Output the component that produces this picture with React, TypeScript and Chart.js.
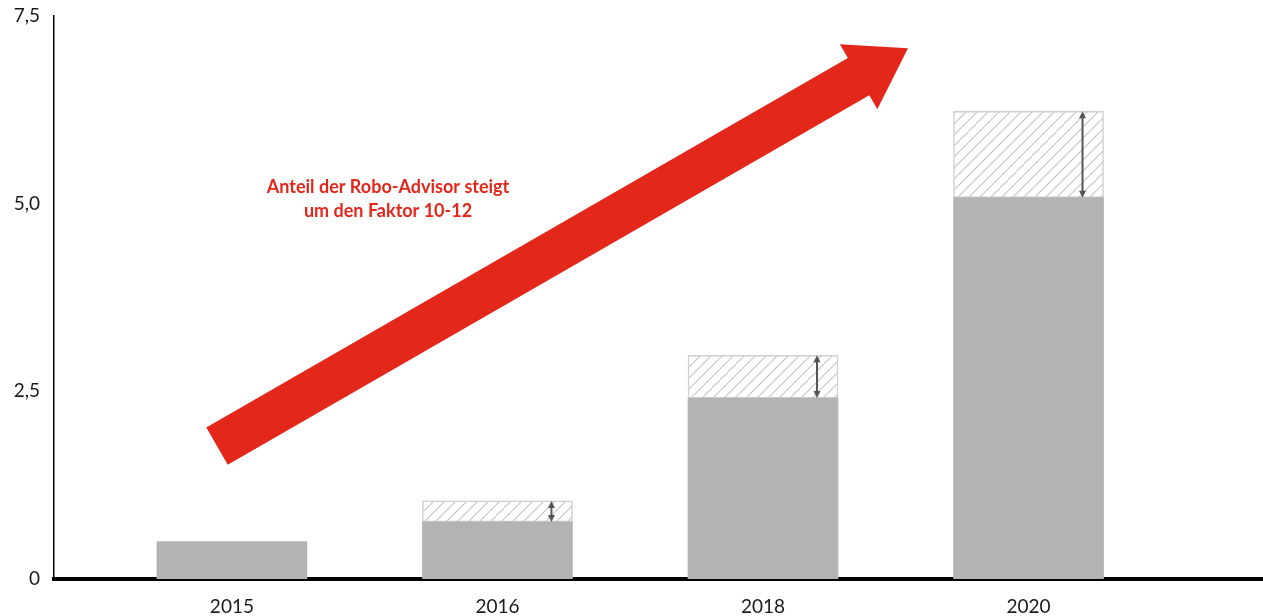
import React, { useEffect, useRef } from 'react';
import { Chart, registerables } from 'chart.js';

Chart.register(...registerables);

// ---- data ----
const years = ['2015', '2016', '2018', '2020'];
const positions = [0, 1, 2, 3];
const baseValues = [0.5, 0.76, 2.41, 5.08];
const rangeValues = [0, 0.28, 0.57, 1.15];
const yTicks = [0, 2.5, 5, 7.5];
const yTickLabels = ['0', '2,5', '5,0', '7,5'];
const noteLines = ['Anteil der Robo-Advisor steigt', 'um den Faktor 10-12'];
// trend arrow in data coordinates (x = category position, y = value)
const arrowTail = { x: -0.056, y: 1.77 };
const arrowTip = { x: 2.546, y: 7.07 };
const notePos = { x: 0.588, y: 5.22 };

const RED = '#e3271a';
const FONT = 'Lato, "Noto Sans", sans-serif';

function makeHatch(): CanvasPattern | string {
  const s = 11;
  const c = document.createElement('canvas');
  c.width = s;
  c.height = s;
  const g = c.getContext('2d');
  if (!g) return '#ffffff';
  g.fillStyle = '#ffffff';
  g.fillRect(0, 0, s, s);
  g.strokeStyle = '#c4c4c4';
  g.lineWidth = 1.1;
  g.beginPath();
  g.moveTo(0, s);
  g.lineTo(s, 0);
  g.moveTo(-s / 2, s / 2);
  g.lineTo(s / 2, -s / 2);
  g.moveTo(s / 2, s * 1.5);
  g.lineTo(s * 1.5, s / 2);
  g.stroke();
  const p = g.createPattern(c, 'repeat');
  return p || '#ffffff';
}

const overlayPlugin = {
  id: 'overlay',
  afterDatasetsDraw(chart: any) {
    const { ctx } = chart;
    const xs = chart.scales.x;
    const ys = chart.scales.y;
    ctx.save();

    // range double arrows
    ctx.strokeStyle = '#555555';
    ctx.fillStyle = '#555555';
    ctx.lineWidth = 2;
    positions.forEach((p, i) => {
      if (rangeValues[i] <= 0) return;
      const x = xs.getPixelForValue(p) + 54;
      const y1 = ys.getPixelForValue(baseValues[i]);
      const y2 = ys.getPixelForValue(baseValues[i] + rangeValues[i]);
      const ah = 7;
      const aw = 3.5;
      ctx.beginPath();
      ctx.moveTo(x, y2 + ah - 1);
      ctx.lineTo(x, y1 - ah + 1);
      ctx.stroke();
      ctx.beginPath();
      ctx.moveTo(x, y2);
      ctx.lineTo(x - aw, y2 + ah);
      ctx.lineTo(x + aw, y2 + ah);
      ctx.closePath();
      ctx.fill();
      ctx.beginPath();
      ctx.moveTo(x, y1);
      ctx.lineTo(x - aw, y1 - ah);
      ctx.lineTo(x + aw, y1 - ah);
      ctx.closePath();
      ctx.fill();
    });

    // big red trend arrow
    const tx = xs.getPixelForValue(arrowTail.x);
    const ty = ys.getPixelForValue(arrowTail.y);
    const hx = xs.getPixelForValue(arrowTip.x);
    const hy = ys.getPixelForValue(arrowTip.y);
    const len = Math.hypot(hx - tx, hy - ty);
    const ux = (hx - tx) / len;
    const uy = (hy - ty) / len;
    const nx = -uy;
    const ny = ux;
    const h = 21.5;
    const H = 37.6;
    const headLen = 57;
    const bx = hx - ux * headLen;
    const by = hy - uy * headLen;
    ctx.fillStyle = RED;
    ctx.beginPath();
    ctx.moveTo(tx - nx * h, ty - ny * h);
    ctx.lineTo(bx - nx * h, by - ny * h);
    ctx.lineTo(bx - nx * H, by - ny * H);
    ctx.lineTo(hx, hy);
    ctx.lineTo(bx + nx * H, by + ny * H);
    ctx.lineTo(bx + nx * h, by + ny * h);
    ctx.lineTo(tx + nx * h, ty + ny * h);
    ctx.closePath();
    ctx.fill();

    // note text
    ctx.fillStyle = RED;
    ctx.font = `bold 18px ${FONT}`;
    ctx.textAlign = 'center';
    ctx.textBaseline = 'middle';
    const cx = xs.getPixelForValue(notePos.x);
    const cy = ys.getPixelForValue(notePos.y);
    noteLines.forEach((t, i) => ctx.fillText(t, cx, cy + i * 24));
    ctx.restore();
  },
};

export default function App() {
  const ref = useRef<HTMLCanvasElement | null>(null);
  useEffect(() => {
    if (!ref.current) return;
    const hatch = makeHatch();
    const chart = new Chart(ref.current, {
      type: 'bar',
      data: {
        datasets: [
          {
            label: 'base',
            data: positions.map((p, i) => ({ x: p, y: baseValues[i] })),
            backgroundColor: '#b3b3b3',
            borderWidth: 0,
            barThickness: 150,
          },
          {
            label: 'range',
            data: positions.map((p, i) => ({ x: p, y: rangeValues[i] })),
            backgroundColor: hatch as any,
            borderColor: '#cfcfcf',
            borderWidth: 1.5,
            borderSkipped: false,
            barThickness: 150,
          },
        ],
      },
      options: {
        animation: false,
        responsive: false,
        layout: { padding: { top: 16, right: 0, left: 0, bottom: 0 } },
        plugins: {
          legend: { display: false },
          tooltip: { enabled: false },
        },
        scales: {
          x: {
            type: 'linear',
            stacked: true,
            offset: false,
            min: -0.67,
            max: 3.883,
            grid: { display: false, drawTicks: false, offset: false },
            border: { display: true, color: '#000000', width: 4 },
            afterBuildTicks: (scale: any) => {
              scale.ticks = positions.map((v) => ({ value: v }));
            },
            afterFit: (scale: any) => {
              scale.height = 37;
              scale.paddingLeft = 0;
              scale.paddingRight = 0;
            },
            ticks: {
              padding: 16,
              color: '#1a1a1a',
              font: { family: FONT, size: 19 },
              callback: (v: any) => {
                const i = positions.indexOf(Number(v));
                return i >= 0 ? years[i] : '';
              },
            },
          },
          y: {
            type: 'linear',
            stacked: true,
            min: 0,
            max: 7.5,
            grid: { display: false, drawTicks: false },
            border: { display: true, color: '#000000', width: 1.5 },
            afterBuildTicks: (scale: any) => {
              scale.ticks = yTicks.map((v) => ({ value: v }));
            },
            afterFit: (scale: any) => {
              scale.width = 54;
              scale.paddingTop = 0;
              scale.paddingBottom = 0;
            },
            ticks: {
              padding: 14,
              color: '#1a1a1a',
              font: { family: FONT, size: 19 },
              callback: (v: any) => {
                const i = yTicks.indexOf(Number(v));
                return i >= 0 ? yTickLabels[i] : '';
              },
            },
          },
        },
      },
      plugins: [overlayPlugin],
    });
    return () => chart.destroy();
  }, []);
  return (
    <div style={{ position: 'fixed', left: 0, top: 0, width: 1263, height: 616, background: '#fff' }}>
      <canvas ref={ref} width={1263} height={616} style={{ display: 'block' }} />
    </div>
  );
}
